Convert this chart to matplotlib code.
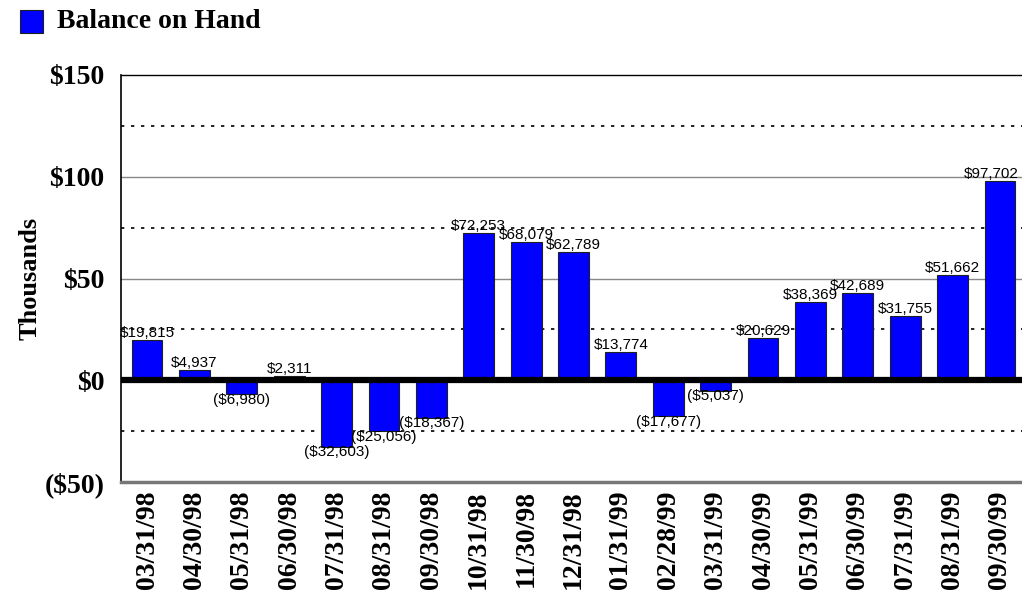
import matplotlib.pyplot as plt

# Month-end balances, dollars
dates = ['03/31/98', '04/30/98', '05/31/98', '06/30/98', '07/31/98', '08/31/98',
         '09/30/98', '10/31/98', '11/30/98', '12/31/98', '01/31/99', '02/28/99',
         '03/31/99', '04/30/99', '05/31/99', '06/30/99', '07/31/99', '08/31/99',
         '09/30/99']
balance = [19815, 4937, -6980, 2311, -32603, -25056, -18367, 72253, 68079,
           62789, 13774, -17677, -5037, 20629, 38369, 42689, 31755, 51662, 97702]
yticks = [-50, 0, 50, 100, 150]
ytick_labels = ['($50)', '$0', '$50', '$100', '$150']

serif = 'Liberation Serif'
sans = 'Liberation Sans'

fig = plt.figure(figsize=(10.22, 5.93), dpi=100)
ax = fig.add_axes([121 / 1022, 1 - 482 / 593, 905 / 1022, 407 / 593])

x = list(range(len(dates)))
vals = [v / 1000 for v in balance]
ax.bar(x, vals, width=0.65, color='#0000ff', edgecolor='#202020',
       linewidth=0.8, zorder=3)

ax.set_xlim(-0.55, len(dates) - 0.45)
ax.set_ylim(-50, 150)

# grid: dotted at the quarter marks, faint solid at the fifties
for y in [-25, 25, 75, 125]:
    ax.axhline(y, color='black', linestyle=(0, (2, 4)), linewidth=1.2, zorder=1)
for y in [50, 100]:
    ax.axhline(y, color='#888888', linewidth=1.0, zorder=1)
ax.axhline(0, color='black', linewidth=4.5, solid_capstyle='round', zorder=4)

for i, (xi, v) in enumerate(zip(x, balance)):
    txt = f'${v:,}' if v >= 0 else f'(${-v:,})'
    dx = -6 if i == len(balance) - 1 else 0  # keep the last one inside the frame
    if v >= 0:
        ax.annotate(txt, (xi, v / 1000), xytext=(dx, 0), textcoords='offset points',
                    ha='center', va='bottom', fontsize=11, family=sans, zorder=5)
    else:
        ax.annotate(txt, (xi, v / 1000), xytext=(dx, 1), textcoords='offset points',
                    ha='center', va='top', fontsize=11, family=sans, zorder=5)

ax.set_yticks(yticks)
ax.set_yticklabels(ytick_labels, fontsize=20, fontweight='bold', family=serif)
ax.set_xticks(x)
ax.set_xticklabels(dates, rotation=90, fontsize=20, fontweight='bold', family=serif)
ax.tick_params(length=0, pad=6)
ax.tick_params(axis='y', pad=12)
ax.set_ylabel('Thousands', fontsize=19, fontweight='bold', family=serif, labelpad=2)

ax.spines['right'].set_visible(False)
ax.spines['top'].set_color('black')
ax.spines['top'].set_linewidth(1.0)
ax.spines['left'].set_linewidth(1.2)
ax.spines['bottom'].set_color('#777777')
ax.spines['bottom'].set_linewidth(2.5)

# legend
fig.patches.append(plt.Rectangle((20 / 1022, 1 - 33 / 593), 23 / 1022, 23 / 593,
                                 transform=fig.transFigure, facecolor='#0000ff',
                                 edgecolor='#202020', linewidth=0.8))
fig.text(57 / 1022, 1 - 22 / 593, 'Balance on Hand', fontsize=20, fontweight='bold',
         family=serif, va='center', ha='left')

fig.savefig('out.png', dpi=100)
